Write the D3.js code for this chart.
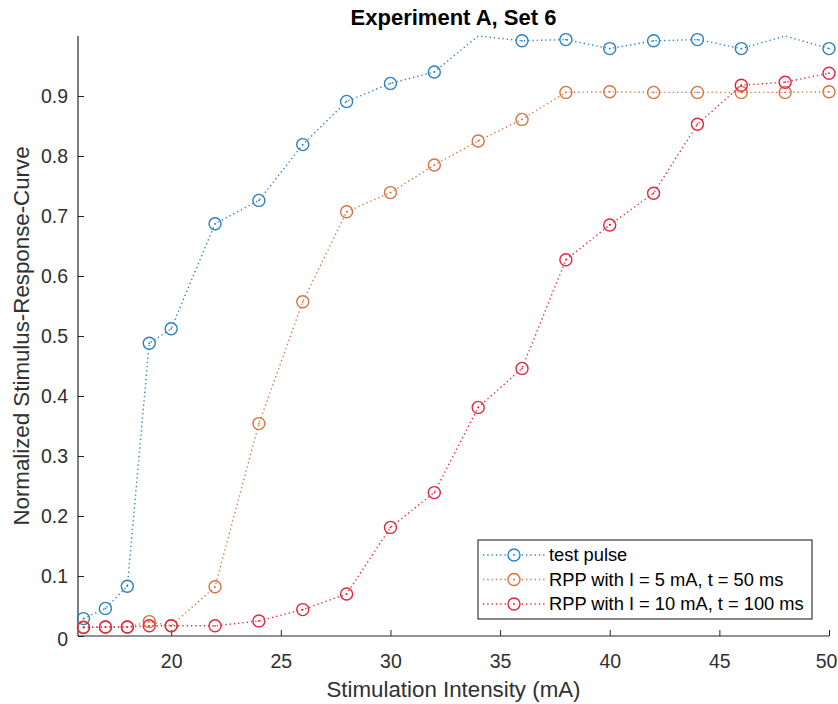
<!DOCTYPE html>
<html>
<head>
<meta charset="utf-8">
<script src="https://cdn.jsdelivr.net/npm/d3@7"></script>
<style>
  html, body { margin: 0; padding: 0; background: #fff; }
  svg { display: block; font-family: "Liberation Sans", Arial, Helvetica, sans-serif; }
</style>
</head>
<body>
<svg id="chart" width="838" height="704"></svg>
<script>
// Stimulation intensities (mA)
const intensities = [16, 17, 18, 19, 20, 22, 24, 26, 28, 30, 32, 34, 36, 38, 40, 42, 44, 46, 48, 50];

// Normalized stimulus-response values per condition
const testPulse = [0.029, 0.046, 0.083, 0.488, 0.512, 0.687, 0.726, 0.819, 0.891, 0.921,
                   0.940, 1.000, 0.992, 0.994, 0.979, 0.992, 0.994, 0.979, 1.000, 0.979];
const rpp5mA    = [0.015, 0.015, 0.015, 0.024, 0.017, 0.082, 0.354, 0.557, 0.707, 0.739,
                   0.785, 0.825, 0.861, 0.906, 0.907, 0.906, 0.906, 0.906, 0.906, 0.907];
const rpp10mA   = [0.014, 0.015, 0.015, 0.017, 0.017, 0.017, 0.025, 0.044, 0.070, 0.181,
                   0.239, 0.381, 0.446, 0.627, 0.685, 0.738, 0.853, 0.918, 0.923, 0.938];

const seriesNames = ["test pulse", "RPP with I = 5 mA, t = 50 ms", "RPP with I = 10 mA, t = 100 ms"];
const seriesColors = ["#2b80c2", "#d6733f", "#e3263d"];

const xTicks = [20, 25, 30, 35, 40, 45, 50];
const yTicks = [0, 0.1, 0.2, 0.3, 0.4, 0.5, 0.6, 0.7, 0.8, 0.9];

const xDomain = [15.75, 50];
const yDomain = [0, 1];

const titleText = "Experiment A, Set 6";
const xLabelText = "Stimulation Intensity (mA)";
const yLabelText = "Normalized  Stimulus-Response-Curve";

// ---- layout ----
const plot = { left: 78, right: 829, top: 36, bottom: 636 };
const axisColor = "#262626";
const textColor = "#303030";

const svg = d3.select("#chart");

const x = d3.scaleLinear().domain(xDomain).range([plot.left, plot.right]);
const y = d3.scaleLinear().domain(yDomain).range([plot.bottom, plot.top]);

const series = [testPulse, rpp5mA, rpp10mA].map((vals, i) => ({
  name: seriesNames[i],
  color: seriesColors[i],
  points: intensities.map((xv, j) => ({ x: xv, y: vals[j] }))
}));

// ---- axes (ticks point inward) ----
const xAxis = d3.axisBottom(x).tickValues(xTicks).tickSize(-6).tickPadding(18)
  .tickFormat(d3.format("d"));
const yAxis = d3.axisLeft(y).tickValues(yTicks).tickSize(-6).tickPadding(10)
  .tickFormat(d => d === 0 ? "0" : d3.format(".1f")(d));

const gx = svg.append("g").attr("transform", `translate(0,${plot.bottom})`).call(xAxis);
const gy = svg.append("g").attr("transform", `translate(${plot.left},0)`).call(yAxis);

[gx, gy].forEach(g => {
  g.select(".domain").attr("stroke", axisColor).attr("stroke-width", 1.2);
  g.selectAll(".tick line").attr("stroke", axisColor).attr("stroke-width", 1);
  g.selectAll(".tick text")
    .attr("fill", textColor)
    .style("font-size", "19.5px")
    .style("font-family", "'Liberation Sans', Arial, sans-serif");
});
// keep the last x label inside the canvas
gx.selectAll(".tick text").filter(d => d === xDomain[1]).attr("dx", -3);
gy.selectAll(".tick text").filter(d => d === 0).attr("dy", "0.5em");

gx.select(".domain").attr("d", `M${plot.left},0H${plot.right}`);
gy.select(".domain").attr("d", `M0,${plot.bottom}V${plot.top}`);

// ---- series: dotted lines with circle markers ----
const line = d3.line().x(d => x(d.x)).y(d => y(d.y));

const gSeries = svg.append("g");
series.forEach(s => {
  gSeries.append("path")
    .datum(s.points)
    .attr("d", line)
    .attr("fill", "none")
    .attr("stroke", s.color)
    .attr("stroke-width", 1.4)
    .attr("stroke-dasharray", "1.3,3")
    .attr("stroke-linecap", "butt");
});
series.forEach(s => {
  // markers sitting on the upper limit are clipped away
  const visible = s.points.filter(d => d.y < yDomain[1]);
  const g = gSeries.append("g");
  g.selectAll("circle.m").data(visible).join("circle")
    .attr("class", "m")
    .attr("cx", d => x(d.x)).attr("cy", d => y(d.y))
    .attr("r", 6)
    .attr("fill", "none")
    .attr("stroke", s.color)
    .attr("stroke-width", 1.4);
  g.selectAll("circle.c").data(visible).join("circle")
    .attr("class", "c")
    .attr("cx", d => x(d.x)).attr("cy", d => y(d.y))
    .attr("r", 0.9)
    .attr("fill", s.color);
});

// ---- title and axis labels ----
svg.append("text")
  .attr("x", (plot.left + plot.right) / 2).attr("y", 25)
  .attr("text-anchor", "middle")
  .attr("fill", "#000")
  .style("font-size", "22px").style("font-weight", "bold")
  .text(titleText);

svg.append("text")
  .attr("x", (plot.left + plot.right) / 2).attr("y", 697)
  .attr("text-anchor", "middle")
  .attr("fill", textColor)
  .style("font-size", "22.3px")
  .text(xLabelText);

svg.append("text")
  .attr("transform", `translate(29,${(plot.top + plot.bottom) / 2}) rotate(-90)`)
  .attr("text-anchor", "middle")
  .attr("fill", textColor)
  .style("font-size", "22.3px")
  .text(yLabelText);

// ---- legend ----
const legend = { x: 478, y: 540, w: 334, h: 79, row0: 555, rowStep: 24.5 };
const gl = svg.append("g");
gl.append("rect")
  .attr("x", legend.x).attr("y", legend.y)
  .attr("width", legend.w).attr("height", legend.h)
  .attr("fill", "#fff").attr("stroke", axisColor).attr("stroke-width", 1.1);

series.forEach((s, i) => {
  const cy = legend.row0 + i * legend.rowStep;
  gl.append("line")
    .attr("x1", legend.x + 5).attr("x2", legend.x + 67)
    .attr("y1", cy).attr("y2", cy)
    .attr("stroke", s.color).attr("stroke-width", 1.4)
    .attr("stroke-dasharray", "1.3,3");
  gl.append("circle")
    .attr("cx", legend.x + 36).attr("cy", cy).attr("r", 6)
    .attr("fill", "#fff").attr("stroke", s.color).attr("stroke-width", 1.4);
  gl.append("circle")
    .attr("cx", legend.x + 36).attr("cy", cy).attr("r", 0.9)
    .attr("fill", s.color);
  gl.append("text")
    .attr("x", legend.x + 71).attr("y", cy)
    .attr("dy", "0.35em")
    .attr("fill", "#000")
    .style("font-size", "18.3px")
    .text(s.name);
});
</script>
</body>
</html>
